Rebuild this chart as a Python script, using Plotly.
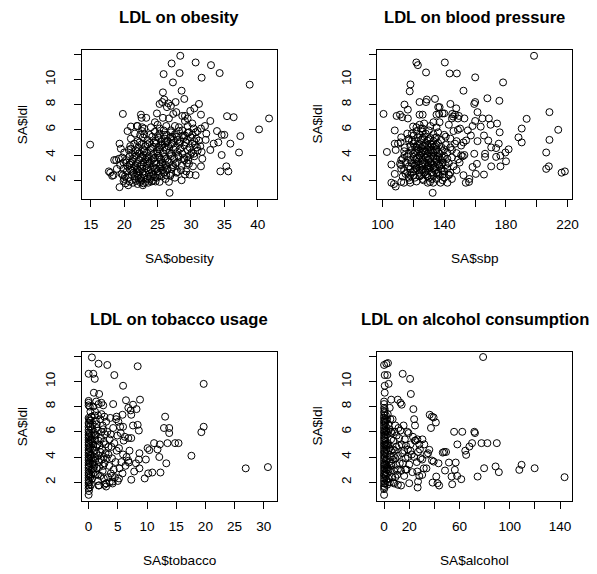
import plotly.graph_objects as go

# ---------------- data ----------------
# Panel 1: (obesity, ldl)
obesity_ldl = [
    (14.9, 4.82), (17.7, 2.7), (17.9, 2.6), (18.2, 2.35), (18.4, 2.4), (18.5, 3.6), (18.8, 3.6), (19.3, 1.45), (19.3, 4.9), (19.5, 4.5),
    (19.8, 7.26), (19.9, 1.95), (20.0, 2.1), (20.5, 5.9), (21.0, 6.26), (22.5, 7.2), (22.6, 6.95), (23.3, 6.95), (22.0, 6.3), (22.7, 6.2),
    (25.9, 10.42), (27.1, 11.26), (28.4, 11.87), (28.3, 10.5), (27.3, 9.76), (25.8, 8.97), (28.6, 9.1), (29.0, 8.45), (30.7, 11.34), (31.6, 10.13),
    (33.0, 11.13), (34.3, 10.5), (38.8, 9.58), (40.2, 6.03), (41.7, 6.9),
    (25.3, 8.05), (25.7, 8.2), (26.0, 8.4), (26.6, 8.1), (26.4, 7.8), (27.0, 7.9), (27.7, 8.2), (27.35, 7.26), (27.8, 7.4), (28.7, 7.1),
    (29.1, 7.1), (29.5, 6.9), (29.9, 7.5), (31.2, 8.05), (31.5, 7.2), (32.9, 6.7), (30.5, 7.7),
    (24.9, 7.3), (24.6, 6.6), (25.0, 6.4), (25.3, 6.1), (25.8, 6.95), (26.3, 6.3), (26.7, 6.9), (27.0, 5.95), (27.6, 6.3), (28.2, 6.2),
    (28.7, 5.95), (29.1, 6.7), (29.5, 6.3), (29.7, 5.8), (29.1, 5.55), (30.2, 6.5), (30.4, 6.1), (30.7, 5.8), (31.5, 6.1), (32.1, 6.3),
    (32.3, 5.7), (32.2, 5.2), (33.9, 5.9), (34.6, 5.6), (35.0, 5.6), (34.1, 5.0), (33.4, 4.9), (34.6, 4.0), (34.4, 2.7), (35.3, 3.1),
    (35.6, 2.7), (35.4, 7.08), (36.4, 7.0), (35.9, 4.9), (37.4, 5.5), (37.2, 4.2), (32.9, 4.4), (31.5, 3.1), (31.7, 3.7), (30.7, 2.4),
    (29.8, 2.45), (29.1, 2.45), (28.6, 2.0), (26.8, 1.0), (26.7, 1.87), (25.3, 1.87),
    (30.2, 4.9), (30.9, 4.6), (31.2, 5.15), (31.6, 4.25), (30.4, 4.1), (29.9, 4.0), (29.4, 3.85), (29.0, 3.6), (29.7, 3.3), (28.2, 3.85),
    (27.7, 3.3), (28.0, 2.65), (27.3, 3.05), (27.0, 2.5), (26.5, 2.9), (26.3, 2.4), (25.8, 2.8), (25.3, 2.4), (24.8, 2.9), (24.6, 2.25),
    (20.2, 1.75), (21.3, 1.8), (22.0, 1.7), (22.4, 1.85), (22.9, 1.75), (23.6, 1.8), (24.1, 1.9), (21.8, 1.95), (22.6, 2.0), (20.8, 1.9), (23.2, 1.85),
    (20.1, 2.3), (20.6, 2.2), (21.1, 2.45), (21.6, 2.1), (22.1, 2.35), (22.5, 2.2), (23.0, 2.4), (23.5, 2.1), (24.0, 2.3), (24.4, 2.45),
    (24.9, 2.2), (25.6, 2.3), (26.2, 2.1), (26.9, 2.35), (27.6, 2.2), (19.8, 2.4), (22.8, 2.5), (21.9, 2.55),
    (19.9, 2.9), (20.4, 2.7), (20.9, 2.85), (21.4, 2.6), (21.9, 2.95), (22.3, 2.7), (22.7, 2.9), (23.1, 2.6), (23.6, 2.8), (24.2, 2.65),
    (24.6, 2.95), (25.0, 2.7), (25.4, 2.95), (25.9, 2.6), (26.4, 2.8), (27.1, 2.9), (27.8, 2.6), (28.5, 2.8), (29.3, 2.7), (18.9, 2.9), (26.0, 3.0),
    (19.4, 3.2), (19.9, 3.4), (20.5, 3.1), (21.0, 3.35), (21.5, 3.05), (22.0, 3.3), (22.4, 3.1), (22.9, 3.4), (23.3, 3.15), (23.8, 3.35),
    (24.3, 3.05), (24.8, 3.3), (25.3, 3.1), (25.7, 3.4), (26.2, 3.2), (26.7, 3.45), (27.3, 3.2), (27.9, 3.4), (28.6, 3.15), (29.4, 3.35),
    (30.3, 3.1), (21.2, 3.5), (23.6, 3.5),
    (19.7, 3.8), (20.3, 3.6), (20.8, 3.9), (21.3, 3.7), (21.8, 3.95), (22.2, 3.6), (22.7, 3.85), (23.2, 3.65), (23.7, 3.9), (24.1, 3.6),
    (24.6, 3.8), (25.1, 3.95), (25.5, 3.65), (26.0, 3.85), (26.5, 3.6), (27.0, 3.9), (27.5, 3.7), (28.1, 3.95), (28.9, 3.75), (29.6, 3.6),
    (30.5, 3.9), (22.9, 4.0),
    (20.0, 4.2), (20.7, 4.4), (21.2, 4.1), (21.7, 4.35), (22.3, 4.15), (22.8, 4.45), (23.4, 4.2), (23.9, 4.4), (24.4, 4.1), (24.9, 4.3),
    (25.3, 4.45), (25.8, 4.15), (26.3, 4.4), (26.8, 4.2), (27.4, 4.45), (28.0, 4.25), (28.7, 4.1), (29.5, 4.4), (30.1, 4.2), (31.0, 4.35),
    (20.9, 4.7), (21.5, 4.9), (22.1, 4.6), (22.6, 4.85), (23.2, 4.7), (23.8, 4.95), (24.3, 4.65), (24.8, 4.9), (25.2, 4.6), (25.7, 4.8),
    (26.1, 4.95), (26.6, 4.7), (27.1, 4.85), (27.7, 4.6), (28.3, 4.9), (29.0, 4.75), (29.8, 4.6), (30.6, 4.8), (31.4, 4.7),
    (21.0, 5.3), (22.0, 5.1), (22.8, 5.4), (23.5, 5.2), (24.2, 5.45), (24.7, 5.15), (25.2, 5.35), (25.6, 5.05), (26.1, 5.3), (26.5, 5.1),
    (26.9, 5.4), (27.4, 5.2), (27.9, 5.45), (28.4, 5.1), (28.9, 5.35), (29.4, 5.2), (30.0, 5.4), (30.8, 5.3), (22.4, 5.6),
    (21.6, 5.7), (22.7, 5.9), (23.8, 5.6), (24.6, 5.85), (25.3, 5.7), (25.9, 5.95), (26.4, 5.6), (27.0, 5.8), (27.6, 5.65), (28.2, 5.9),
    (28.8, 5.55), (29.5, 5.75), (30.2, 5.6), (31.0, 5.9), (21.9, 6.3), (23.0, 6.1), (24.0, 6.2),
    (20.6, 1.6), (21.6, 2.3), (22.2, 2.1), (22.9, 2.2), (23.7, 2.5), (24.3, 1.95), (21.2, 2.75), (22.0, 2.85), (23.4, 2.95), (24.0, 2.85),
    (20.8, 3.25), (21.7, 3.2), (22.6, 3.25), (23.5, 3.3), (24.5, 3.45), (25.5, 3.25), (21.5, 3.85), (22.5, 3.75), (23.4, 3.8), (24.4, 3.7),
    (25.3, 3.8), (26.2, 3.7), (21.0, 4.5), (22.0, 4.3), (23.0, 4.3), (24.0, 4.55), (25.0, 4.15), (26.0, 4.6), (27.0, 4.1), (22.3, 5.0),
    (23.5, 4.85), (24.5, 5.0), (25.5, 4.75), (26.3, 5.05), (27.2, 4.95), (23.0, 5.65), (25.0, 5.5), (26.0, 5.6), (27.2, 5.45), (28.0, 5.2),
    (22.8, 1.6), (23.9, 2.1), (25.1, 2.5), (24.7, 1.9), (19.6, 2.5), (20.3, 3.4), (19.2, 3.7), (28.4, 4.5), (29.2, 5.0), (30.5, 5.1),
]

# Panel 2: (sbp, ldl)
sbp_ldl = [
    (100.6, 7.26), (102.8, 4.24), (105.7, 3.24), (105.7, 1.8), (107.4, 1.7), (108.5, 1.5), (107.9, 2.5), (108.5, 4.4), (107.9, 4.9), (110.0, 4.9),
    (107.9, 5.95), (109.1, 7.1), (111.3, 7.2), (112.7, 7.0), (114.2, 8.0), (116.4, 7.6), (116.4, 6.9), (118.1, 9.6), (117.6, 9.05), (121.9, 11.34),
    (122.9, 11.13), (128.2, 10.55), (140.4, 11.34), (143.5, 10.47), (148.2, 10.47), (152.5, 9.1), (160.1, 10.16), (160.1, 8.2), (159.5, 8.05), (168.0, 8.5),
    (175.8, 8.3), (178.2, 9.76), (198.3, 11.87), (193.5, 6.87), (190.3, 6.1), (190.3, 5.0), (188.2, 5.4), (208.3, 7.4), (208.3, 5.2), (214.0, 6.0),
    (206.2, 4.2), (206.2, 2.9), (207.9, 3.1), (216.2, 2.6), (218.3, 2.7),
    (169.0, 6.9), (170.1, 6.4), (174.3, 6.5), (176.0, 5.8), (165.8, 5.55), (168.6, 5.15), (170.5, 4.6), (173.7, 4.55), (175.4, 4.9), (176.5, 3.95),
    (173.7, 3.85), (170.5, 3.1), (176.5, 3.1), (180.1, 3.5), (179.7, 4.2), (181.8, 4.45), (166.5, 4.1), (166.5, 3.85), (165.8, 2.45), (160.5, 2.5),
    (161.2, 3.3), (158.4, 3.05), (161.6, 5.1), (159.5, 4.1), (161.6, 7.4), (164.8, 6.9), (163.7, 6.25), (160.1, 6.7), (158.4, 6.3), (157.3, 5.55),
    (154.2, 5.15), (155.3, 5.95), (153.1, 6.9), (152.5, 5.0), (153.1, 4.0), (151.0, 3.97), (152.5, 2.4), (154.0, 1.8), (156.1, 1.87), (156.3, 2.1),
    (114.9, 2.5), (113.8, 1.8), (112.1, 1.87), (118.0, 1.8), (117.6, 2.0), (126.5, 2.0), (129.3, 1.8), (130.8, 1.87), (132.5, 1.0), (132.9, 1.8),
    (137.6, 1.8), (138.9, 2.0), (142.1, 1.8), (143.1, 2.4),
    (112.1, 5.4), (111.7, 5.0), (114.4, 4.6), (114.2, 4.0), (112.1, 3.6), (111.3, 3.3), (112.1, 2.9), (116.0, 5.7), (117.0, 5.15),
    (124.0, 8.2), (128.7, 8.4), (128.2, 8.2), (134.0, 8.45), (136.1, 7.8), (136.7, 7.26), (138.9, 7.3), (144.0, 8.05), (145.2, 7.26), (145.7, 7.05),
    (147.8, 7.7), (148.9, 6.9), (149.5, 7.1), (150.3, 6.1), (148.9, 6.0), (124.0, 7.2), (124.9, 6.1), (120.2, 5.55), (119.8, 6.26),
    (113, 2.3), (117, 2.2), (120, 2.4), (122, 1.9), (124, 2.3), (126, 2.1), (128, 2.45), (130, 2.2), (133, 2.4), (135, 2.1),
    (137, 2.35), (140, 2.2), (143, 2.45), (145, 2.1), (119, 2.6), (127, 2.6),
    (114, 2.8), (116, 2.6), (118, 2.9), (120, 2.7), (122, 2.95), (124, 2.6), (126, 2.85), (128, 2.7), (130, 2.95), (132, 2.6),
    (134, 2.8), (136, 2.65), (138, 2.9), (140, 2.7), (142, 2.95), (144, 2.6), (148, 2.8), (131, 3.0),
    (112, 3.2), (115, 3.4), (117, 3.1), (119, 3.35), (121, 3.15), (123, 3.45), (125, 3.2), (127, 3.4), (129, 3.1), (131, 3.35),
    (133, 3.2), (135, 3.45), (137, 3.15), (139, 3.4), (141, 3.2), (143, 3.35), (146, 3.1), (150, 3.4), (124, 3.0), (134, 3.05),
    (113, 3.7), (116, 3.9), (118, 3.6), (120, 3.85), (122, 3.7), (124, 3.95), (126, 3.6), (128, 3.8), (130, 3.65), (132, 3.95),
    (134, 3.7), (136, 3.85), (138, 3.6), (140, 3.9), (142, 3.7), (145, 3.8), (149, 3.65), (152, 3.9), (127, 4.0),
    (114, 4.3), (117, 4.1), (119, 4.4), (121, 4.2), (123, 4.45), (125, 4.15), (127, 4.35), (129, 4.1), (131, 4.4), (133, 4.2),
    (135, 4.45), (137, 4.1), (139, 4.3), (142, 4.2), (145, 4.4), (148, 4.15), (125, 4.55),
    (118, 4.7), (120, 4.9), (122, 4.6), (124, 4.85), (126, 4.7), (128, 4.95), (130, 4.6), (132, 4.8), (134, 4.7), (136, 4.95),
    (138, 4.65), (141, 4.8), (144, 4.6), (147, 4.9), (151, 4.75),
    (117, 5.3), (121, 5.1), (123, 5.4), (125, 5.2), (127, 5.45), (129, 5.15), (131, 5.35), (133, 5.1), (135, 5.4), (138, 5.2),
    (141, 5.45), (144, 5.3), (148, 5.1),
    (119, 5.7), (122, 5.9), (124, 5.6), (126, 5.85), (128, 5.7), (130, 5.95), (133, 5.65), (136, 5.8), (140, 5.6), (146, 5.9),
    (122, 6.2), (124, 6.4), (126, 6.1), (127, 6.5), (131, 6.3), (133, 6.6), (135, 6.2), (137, 6.6), (143, 6.4), (145, 6.9),
    (147, 7.2), (140, 7.3), (135, 7.2), (137, 7.8), (126, 7.2),
    (121, 2.2), (125, 2.4), (129, 2.3), (132, 2.1), (136, 2.5), (139, 2.45), (118, 2.4), (121, 2.85), (125, 2.75), (129, 2.85),
    (133, 2.95), (135, 2.55), (139, 2.8), (120, 3.3), (122, 3.25), (126, 3.3), (128, 3.25), (130, 3.2), (132, 3.3), (136, 3.3),
    (138, 3.25), (121, 3.6), (123, 3.8), (125, 3.75), (129, 3.9), (131, 3.75), (133, 3.85), (135, 3.65), (137, 3.75), (139, 3.8),
    (120, 4.1), (122, 4.3), (126, 4.25), (128, 4.3), (130, 4.2), (132, 4.35), (134, 4.3), (136, 4.25), (140, 4.45), (121, 4.65),
    (123, 4.8), (127, 4.75), (129, 4.8), (131, 4.9), (133, 4.65), (135, 4.8), (119, 5.1), (126, 5.35), (130, 5.25), (134, 5.35),
]

# Panel 3: (tobacco, ldl)
tobacco_ldl = [
    (0.56, 11.9), (0.0, 10.6), (0.8, 10.6), (1.05, 10.2), (1.7, 11.4), (3.2, 11.3), (4.4, 10.5), (5.9, 9.65), (8.4, 11.2), (19.7, 9.8),
    (19.3, 5.97), (19.7, 6.4), (17.6, 4.1), (26.9, 3.1), (30.7, 3.2), (13.1, 7.2), (12.9, 6.3), (13.8, 6.3), (13.8, 5.9), (13.5, 5.1),
    (13.3, 3.5), (12.3, 2.77), (12.2, 5.0), (11.8, 4.6), (12.1, 4.0), (11.2, 5.1), (10.9, 2.77), (10.2, 2.7), (9.6, 2.3), (9.8, 3.8),
    (10.1, 4.7), (10.4, 4.55), (8.7, 3.1), (8.6, 3.8), (8.7, 4.3), (8.1, 3.5), (7.8, 2.85), (7.3, 2.2), (6.9, 3.56), (8.8, 8.55),
    (8.2, 7.8), (7.6, 8.15), (7.2, 7.7), (6.8, 7.9), (6.4, 8.5), (7.3, 7.35), (8.4, 6.55), (8.6, 6.1), (7.6, 6.5), (7.3, 5.5),
    (6.8, 5.5), (6.2, 5.6), (5.9, 6.4), (5.8, 7.35), (5.1, 6.8), (4.8, 7.2), (4.2, 8.2), (2.2, 8.3), (1.8, 9.0), (0.9, 9.1),
    (1.3, 8.4), (1.7, 8.2), (2.5, 8.1), (14.8, 5.1), (15.4, 5.1), (5.2, 2.3), (4.1, 2.05), (3.0, 1.66), (3.0, 1.9), (1.7, 1.74),
    (0.0, 1.0), (0.0, 1.52), (0.0, 1.75), (0.0, 1.95), (0.0, 2.15), (0.0, 2.35), (0.0, 2.55), (0.0, 2.75), (0.0, 2.95), (0.0, 3.15),
    (0.0, 3.35), (0.0, 3.55), (0.0, 3.75), (0.0, 3.95), (0.0, 4.15), (0.0, 4.35), (0.0, 4.55), (0.0, 4.75), (0.0, 4.95), (0.0, 5.15),
    (0.0, 5.35), (0.0, 5.55), (0.0, 5.75), (0.0, 5.95), (0.0, 6.15), (0.0, 6.4), (0.0, 6.7), (0.0, 7.1), (0.0, 8.1), (0.0, 8.3), (0.0, 8.45),
    (0.1, 2.0), (0.1, 2.65), (0.1, 3.25), (0.1, 3.85), (0.1, 4.45), (0.1, 5.05), (0.1, 5.65), (0.05, 6.6), (0.1, 7.0),
    (0.4, 1.8), (0.6, 2.3), (0.8, 2.7), (0.5, 3.0), (1.0, 3.3), (0.7, 3.6), (1.2, 3.9), (0.4, 4.2), (0.9, 4.5), (1.3, 4.8),
    (0.6, 5.1), (1.1, 5.4), (0.5, 5.7), (0.9, 6.0), (1.4, 6.3), (0.7, 6.6), (1.2, 6.9), (0.5, 7.2), (1.0, 7.3),
    (1.6, 2.1), (2.0, 2.5), (2.4, 2.9), (1.8, 3.2), (2.7, 3.5), (2.2, 3.8), (1.7, 4.1), (2.9, 4.3), (2.3, 4.6), (1.9, 4.9),
    (2.6, 5.2), (2.1, 5.5), (2.8, 5.8), (1.6, 6.1), (2.4, 6.5), (3.0, 6.8), (2.0, 7.0), (2.7, 7.2), (1.8, 1.75), (3.0, 1.9),
    (3.3, 2.4), (3.8, 2.7), (4.3, 3.0), (3.5, 3.3), (4.6, 3.6), (4.0, 3.9), (3.4, 4.2), (4.8, 4.5), (3.9, 4.8), (4.4, 5.1),
    (3.6, 5.4), (4.9, 5.7), (3.2, 6.0), (4.2, 6.3), (4.7, 7.0), (3.7, 7.1), (5.0, 2.1), (4.5, 2.4),
    (5.3, 3.1), (5.6, 3.6), (5.9, 4.2), (5.2, 4.7), (6.0, 5.3), (5.5, 5.9), (6.3, 3.3), (6.5, 4.0), (5.8, 2.7), (7.0, 4.5),
    (6.8, 3.7), (5.4, 6.4),
    (0.2, 1.6), (0.3, 2.4), (0.2, 3.5), (0.3, 4.1), (0.2, 4.7), (0.3, 5.3), (0.2, 5.9), (0.3, 6.4), (0.2, 6.9), (0.3, 7.6),
    (0.2, 8.0), (1.2, 2.6), (1.4, 3.1), (1.1, 3.7), (1.3, 4.3), (1.5, 5.0), (1.2, 5.7), (1.4, 6.6), (0.8, 8.0), (1.1, 7.6),
    (1.6, 7.3), (2.2, 7.4), (2.5, 6.2), (2.9, 5.0), (3.1, 3.9), (2.6, 2.3), (3.6, 2.0), (4.1, 1.9),
    (0.05, 1.3), (0.4, 2.6), (0.6, 3.4), (0.45, 3.9), (0.6, 4.6), (0.45, 5.4), (0.6, 6.2), (0.35, 6.9), (0.8, 3.1), (0.9, 4.0),
    (0.8, 5.0), (1.0, 5.8), (1.6, 2.6), (1.8, 3.6), (2.0, 4.4), (1.7, 5.3), (2.2, 6.0), (2.5, 3.3), (2.6, 4.0), (3.4, 4.8),
    (3.8, 5.8), (2.7, 1.8), (4.0, 2.5),
]

# Panel 4: (alcohol, ldl)
alcohol_ldl = [
    (78.8, 11.93), (0.0, 11.3), (1.8, 11.4), (3.1, 11.45), (0.5, 10.5), (2.6, 10.5), (0.5, 9.65), (3.6, 9.8), (0.5, 9.1),
    (14.8, 10.6), (20.7, 10.2), (21.3, 9.0), (10.9, 8.55), (13.0, 8.3), (14.0, 8.15), (5.7, 8.55), (23.3, 7.8), (23.9, 7.0), (24.6, 6.5),
    (36.3, 7.35), (38.1, 7.2), (39.4, 7.14), (41.2, 6.74), (37.3, 6.3), (55.7, 6.0), (62.2, 6.0), (71.8, 6.0), (72.3, 5.9), (58.3, 5.0),
    (67.9, 4.83), (70.0, 5.1), (77.5, 5.1), (82.2, 5.1), (89.7, 5.1), (64.6, 4.5), (65.3, 4.17), (49.3, 4.4), (47.8, 4.4), (46.7, 4.35),
    (36.0, 4.57), (35.0, 4.3), (38.1, 3.72), (39.4, 3.64), (43.3, 3.5), (51.6, 3.56), (57.0, 3.56), (33.7, 3.1), (48.5, 2.93), (56.3, 2.98),
    (58.1, 2.5), (53.7, 2.45), (61.4, 2.24), (74.4, 2.45), (79.6, 3.11), (88.7, 3.25), (91.3, 2.8), (107.6, 2.98), (109.4, 3.38), (119.8, 3.11),
    (143.6, 2.4), (38.6, 1.97), (42.5, 1.92), (43.8, 1.74), (54.2, 1.84), (20.0, 1.92), (13.5, 1.74), (26.7, 1.58), (27.0, 2.05), (28.0, 2.5),
    (30.3, 2.58), (26.4, 2.85), (31.6, 3.1), (41.5, 2.45),
    (0.0, 1.0), (0.0, 1.45), (0.0, 1.7), (0.0, 1.9), (0.0, 2.1), (0.0, 2.3), (0.0, 2.5), (0.0, 2.7), (0.0, 2.9), (0.0, 3.1),
    (0.0, 3.3), (0.0, 3.5), (0.0, 3.7), (0.0, 3.9), (0.0, 4.1), (0.0, 4.3), (0.0, 4.5), (0.0, 4.7), (0.0, 4.9), (0.0, 5.1),
    (0.0, 5.3), (0.0, 5.5), (0.0, 5.7), (0.0, 5.9), (0.0, 6.1), (0.0, 6.3), (0.0, 6.5), (0.0, 6.7), (0.0, 6.9), (0.0, 7.1),
    (0.0, 7.3), (0.0, 7.6), (0.0, 7.9), (0.0, 8.2), (0.0, 8.4),
    (0.8, 1.9), (1.2, 2.5), (0.6, 3.1), (1.5, 3.7), (0.9, 4.3), (1.3, 4.9), (0.7, 5.5), (1.6, 6.1), (1.0, 6.7), (1.4, 7.3),
    (0.5, 7.8), (1.8, 2.2), (1.1, 2.8), (1.7, 3.4), (0.6, 4.0), (1.9, 4.6), (1.2, 5.2), (0.8, 5.8), (1.5, 6.4), (0.9, 7.0),
    (2.5, 1.8), (3.5, 2.3), (4.8, 2.9), (2.8, 3.2), (3.9, 3.6), (5.2, 4.0), (2.3, 4.3), (4.3, 4.7), (3.1, 5.1), (5.6, 5.4),
    (2.6, 5.8), (4.0, 6.2), (3.3, 6.6), (5.0, 7.0), (2.9, 7.4), (4.5, 7.9), (3.7, 3.0), (5.8, 3.3), (2.2, 2.7), (4.6, 2.0),
    (3.0, 4.9), (5.5, 6.0),
    (6.5, 2.4), (8.0, 2.9), (9.5, 3.4), (7.0, 3.8), (11.0, 4.1), (8.5, 4.5), (12.0, 4.9), (7.5, 5.3), (10.0, 5.7), (13.0, 6.1),
    (9.0, 6.5), (6.8, 7.0), (11.5, 6.3), (14.0, 5.0), (12.5, 3.5), (10.5, 2.6), (13.5, 2.9), (7.8, 4.1), (9.8, 4.8), (6.2, 5.9),
    (8.4, 6.0), (14.5, 4.3), (8.0, 1.9), (11.0, 1.8),
    (16.0, 2.5), (18.0, 3.0), (20.0, 3.4), (17.0, 3.9), (22.0, 4.2), (19.0, 4.6), (24.0, 4.0), (21.0, 5.0), (16.5, 5.4), (23.0, 5.6),
    (18.5, 6.0), (25.0, 5.3), (27.0, 4.4), (26.0, 3.6), (28.0, 5.0), (29.0, 3.9), (22.5, 2.8), (17.5, 4.9), (15.5, 6.5), (19.5, 5.9),
    (24.5, 5.3), (26.5, 5.4), (28.5, 4.6), (30.5, 5.4), (32.0, 5.0), (34.0, 4.2), (30.3, 3.8),
    (0.3, 1.6), (0.3, 2.6), (0.4, 3.4), (0.3, 4.4), (0.4, 5.0), (0.3, 6.0), (0.4, 6.8), (0.3, 7.5), (2.0, 3.0), (2.4, 3.8),
    (2.0, 5.0), (2.2, 6.0), (2.4, 7.0), (6.0, 3.5), (7.0, 4.6), (5.5, 4.5), (9.0, 3.9), (11.0, 3.0), (12.0, 5.5), (15.0, 3.5),
    (17.0, 3.0), (19.0, 4.0), (21.0, 4.5), (16.0, 4.5), (7.5, 2.0), (3.0, 2.0), (9.0, 2.4),
]

titles = ["LDL on obesity", "LDL on blood pressure", "LDL on tobacco usage", "LDL on alcohol consumption"]
x_titles = ["SA$obesity", "SA$sbp", "SA$tobacco", "SA$alcohol"]
y_title = "SA$ldl"

x_tickvals = [[15, 20, 25, 30, 35, 40],
              [100, 120, 140, 160, 180, 200, 220],
              [0, 5, 10, 15, 20, 25, 30],
              [0, 20, 40, 60, 80, 100, 120, 140]]
x_ticktext = [["15", "20", "25", "30", "35", "40"],
              ["100", "", "140", "", "180", "", "220"],
              ["0", "5", "10", "15", "20", "25", "30"],
              ["0", "20", "", "60", "", "100", "", "140"]]
y_tickvals = [2, 4, 6, 8, 10, 12]
y_ticktext = ["2", "4", "6", "8", "10", ""]

# ---------------- layout geometry ----------------
W, H = 597, 574
x_ranges = [[13.62, 42.84], [96.4, 223.0], [-1.2, 32.2], [-5.6, 149.6]]
y_range = [0.55, 12.33]
col_px = [(77.3, 276.7), (379.3, 578.7)]
row_px = [(50.0, 198.5), (352.0, 500.5)]

FONT = "Liberation Sans, Arial, Helvetica, sans-serif"
TICK_SIZE = 13.6
TITLE_SIZE = 16.6
datasets = [obesity_ldl, sbp_ldl, tobacco_ldl, alcohol_ldl]

fig = go.Figure()
layout = dict(width=W, height=H, margin=dict(l=0, r=0, t=0, b=0),
              paper_bgcolor="white", plot_bgcolor="white", showlegend=False,
              font=dict(family=FONT, size=TICK_SIZE, color="black"))
annotations = []

for i, pts in enumerate(datasets):
    r, c = divmod(i, 2)
    sfx = "" if i == 0 else str(i + 1)
    fig.add_trace(go.Scatter(
        x=[p[0] for p in pts], y=[p[1] for p in pts], mode="markers",
        marker=dict(symbol="circle-open", size=7, color="black", line=dict(width=1, color="black")),
        xaxis="x" + sfx, yaxis="y" + sfx, hoverinfo="skip"))
    x0, x1 = col_px[c]
    y0, y1 = row_px[r]
    common = dict(showgrid=False, zeroline=False, showline=True, mirror=True, linecolor="black",
                  linewidth=1, ticks="outside", ticklen=7, tickwidth=1, tickcolor="black",
                  tickfont=dict(family=FONT, size=TICK_SIZE, color="black"), tickmode="array")
    layout["xaxis" + sfx] = dict(domain=[x0 / W, x1 / W], range=x_ranges[i], anchor="y" + sfx,
                                 tickvals=x_tickvals[i], ticktext=x_ticktext[i],
                                 ticklabelstandoff=6, **common)
    layout["yaxis" + sfx] = dict(domain=[1 - y1 / H, 1 - y0 / H], range=y_range, anchor="x" + sfx,
                                 tickvals=y_tickvals, ticktext=y_ticktext, tickangle=-90,
                                 ticklabelstandoff=13, **common)
    cx = (x0 + x1) / 2
    annotations.append(dict(text="<b>" + titles[i] + "</b>", x=cx / W, y=1 - (y0 - 32.5) / H,
                            xref="paper", yref="paper", showarrow=False, xanchor="center", yanchor="middle",
                            font=dict(family=FONT, size=TITLE_SIZE, color="black")))
    annotations.append(dict(text=x_titles[i], x=cx / W, y=1 - (y1 + 59.5) / H,
                            xref="paper", yref="paper", showarrow=False, xanchor="center", yanchor="middle",
                            font=dict(family=FONT, size=TICK_SIZE, color="black")))
    annotations.append(dict(text=y_title, x=(x0 - 61.0) / W, y=1 - (y0 + y1) / 2 / H,
                            xref="paper", yref="paper", showarrow=False, xanchor="center", yanchor="middle",
                            textangle=-90, font=dict(family=FONT, size=TICK_SIZE, color="black")))

layout["annotations"] = annotations
fig.update_layout(**layout)
fig.write_html("out.html")
